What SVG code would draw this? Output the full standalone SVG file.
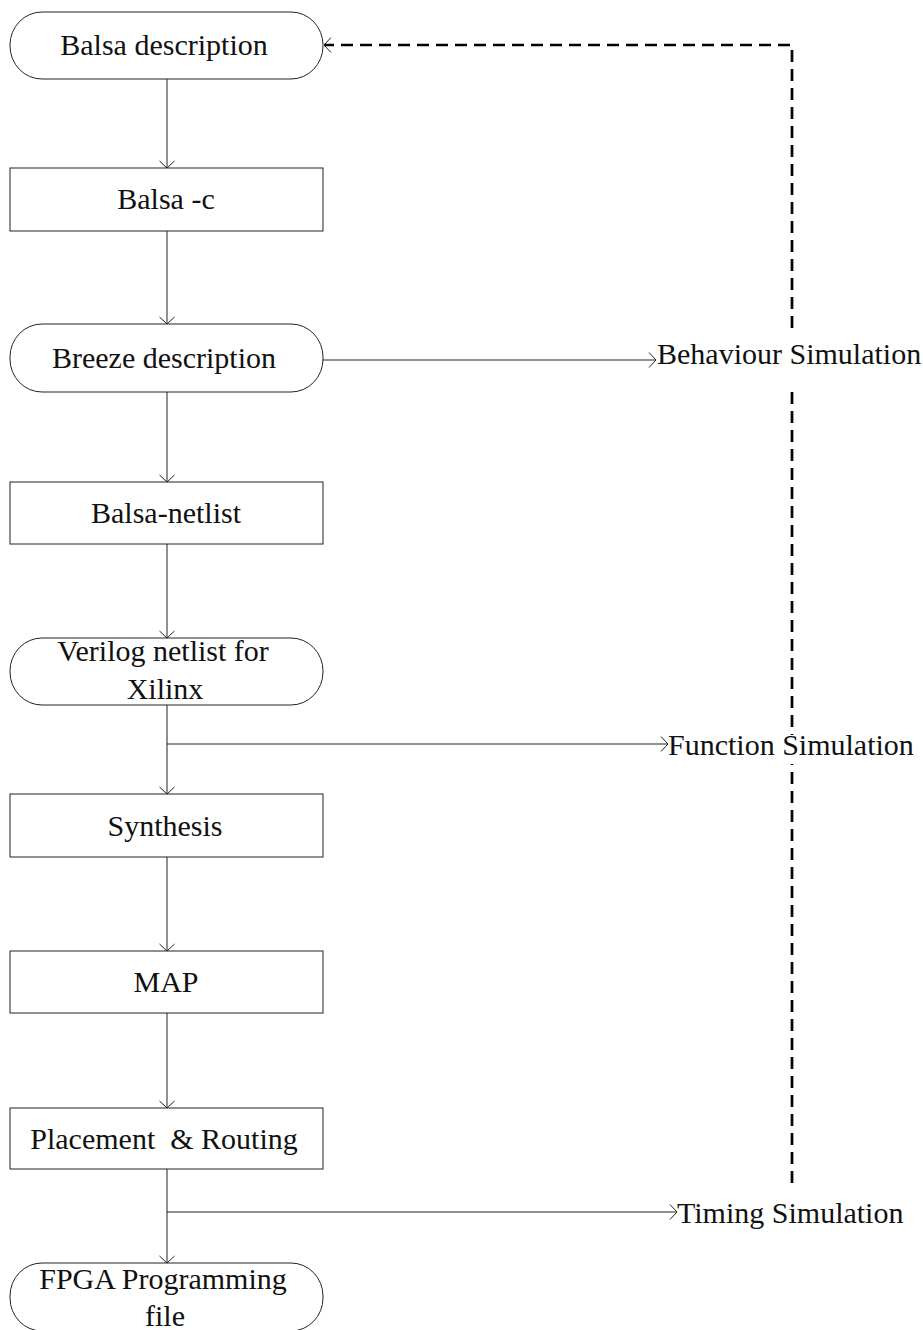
<svg xmlns="http://www.w3.org/2000/svg" width="923" height="1330" viewBox="0 0 923 1330">
<style>
.box{fill:#fff;stroke:#222;stroke-width:1}
.t{font-family:"Liberation Serif","Times New Roman",serif;font-size:30px;fill:#111}
.c{text-anchor:middle}
.con{fill:none;stroke:#222;stroke-width:1}
.dash{fill:none;stroke:#000;stroke-width:2.7;stroke-dasharray:12 7}
.bg{fill:#fff}
</style>
<defs>
<marker id="arr" markerUnits="userSpaceOnUse" viewBox="-9 -9 10 18" markerWidth="10" markerHeight="18" refX="0" refY="0" orient="auto" overflow="visible">
<path d="M-7,-7.5 L0,0 L-7,7.5" fill="none" stroke="#222" stroke-width="1"/>
</marker>
</defs>
<rect width="923" height="1330" fill="#fff"/>
<g id="connectors">
<path class="dash" d="M792,1183 V45 H324"/>
<path class="con" d="M331,37.5 L324,45 L331,52.5"/>
<path class="con" marker-end="url(#arr)" d="M167,79 V168"/>
<path class="con" marker-end="url(#arr)" d="M167,231 V324"/>
<path class="con" marker-end="url(#arr)" d="M323,360 H656"/>
<path class="con" marker-end="url(#arr)" d="M167,392 V482"/>
<path class="con" marker-end="url(#arr)" d="M167,544 V638"/>
<path class="con" marker-end="url(#arr)" d="M167,705 V794"/>
<path class="con" marker-end="url(#arr)" d="M167,744 H668"/>
<path class="con" marker-end="url(#arr)" d="M167,857 V951"/>
<path class="con" marker-end="url(#arr)" d="M167,1013 V1108"/>
<path class="con" marker-end="url(#arr)" d="M167,1169 V1263"/>
<path class="con" marker-end="url(#arr)" d="M167,1212 H677"/>
</g>
<g id="balsa-description">
<rect class="box" x="10" y="12" width="313" height="67" rx="32" ry="33"/>
<text class="t c" x="164" y="55">Balsa description</text>
</g>
<g id="balsa-c">
<rect class="box" x="10" y="168" width="313" height="63"/>
<text class="t c" x="166" y="209">Balsa -c</text>
</g>
<g id="breeze-description">
<rect class="box" x="10" y="324" width="313" height="68" rx="32" ry="33"/>
<text class="t c" x="164" y="368">Breeze description</text>
</g>
<g id="balsa-netlist">
<rect class="box" x="10" y="482" width="313" height="62"/>
<text class="t c" x="166" y="523">Balsa-netlist</text>
</g>
<g id="verilog-netlist">
<rect class="box" x="10" y="638" width="313" height="67" rx="32" ry="33"/>
<text class="t c" x="163" y="661">Verilog netlist for</text>
<text class="t c" x="165" y="699">Xilinx</text>
</g>
<g id="synthesis">
<rect class="box" x="10" y="794" width="313" height="63"/>
<text class="t c" x="165" y="836">Synthesis</text>
</g>
<g id="map">
<rect class="box" x="10" y="951" width="313" height="62"/>
<text class="t c" x="166" y="992">MAP</text>
</g>
<g id="placement-routing">
<rect class="box" x="10" y="1108" width="313" height="61"/>
<text class="t c" x="164" y="1149" xml:space="preserve">Placement  &amp; Routing</text>
</g>
<g id="fpga-programming-file">
<rect class="box" x="10" y="1263" width="313" height="68" rx="32" ry="33"/>
<text class="t c" x="163" y="1289">FPGA Programming</text>
<text class="t c" x="165" y="1326">file</text>
</g>
<g id="behaviour-simulation">
<rect class="bg" x="657" y="328" width="263" height="58"/>
<text class="t" x="657" y="364">Behaviour Simulation</text>
</g>
<g id="function-simulation">
<rect class="bg" x="669" y="735" width="250" height="29"/>
<text class="t" x="668" y="755">Function Simulation</text>
</g>
<g id="timing-simulation">
<text class="t" x="677" y="1223">Timing Simulation</text>
</g>
</svg>
